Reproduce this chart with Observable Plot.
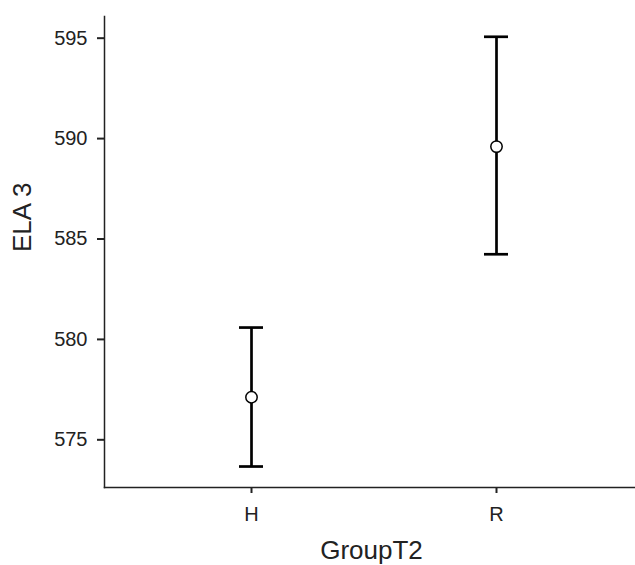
<!DOCTYPE html>
<html>
<head>
<meta charset="utf-8">
<script src="https://cdn.jsdelivr.net/npm/d3@7"></script>
<script src="https://cdn.jsdelivr.net/npm/@observablehq/plot@0.6"></script>
<style>
  html, body { margin: 0; padding: 0; background: #fff; }
</style>
</head>
<body>
<div id="chart"></div>
<script>
const groups = ["H", "R"];
const means = [577.12, 589.60];
const lower = [573.67, 584.24];
const upper = [580.59, 595.07];
const yTicks = [575, 580, 585, 590, 595];
const yDomain = [572.625, 596.08];
const xTitle = "GroupT2";
const yTitle = "ELA 3";

const data = groups.map((g, i) => ({group: g, mean: means[i], lo: lower[i], hi: upper[i]}));

const chart = Plot.plot({
  width: 635,
  height: 565,
  marginLeft: 104,
  marginTop: 16,
  marginBottom: 78,
  marginRight: 1,
  style: {fontFamily: "'Liberation Sans', Arial, sans-serif", color: "#222", background: "#fff"},
  x: {type: "band", domain: groups, paddingInner: 0.902, paddingOuter: 0.531, align: 0.517, axis: null},
  y: {domain: yDomain, axis: null},
  marks: [
    Plot.axisY({ticks: yTicks, tickSize: 7, tickPadding: 10, fontSize: 20, strokeWidth: 2, label: null, color: "#222"}),
    Plot.axisX({tickSize: 6, tickPadding: 13, fontSize: 20, strokeWidth: 2, label: null, color: "#222"}),
    Plot.frame({anchor: "left", stroke: "#222", strokeWidth: 1.5}),
    Plot.frame({anchor: "bottom", stroke: "#222", strokeWidth: 1.5}),
    Plot.ruleX(data, {x: "group", y1: "lo", y2: "hi", stroke: "#000", strokeWidth: 2.7}),
    Plot.tickY(data, {x: "group", y: "hi", stroke: "#000", strokeWidth: 2.7}),
    Plot.tickY(data, {x: "group", y: "lo", stroke: "#000", strokeWidth: 2.7}),
    Plot.dot(data, {x: "group", y: "mean", r: 5.7, fill: "#fff", stroke: "#000", strokeWidth: 1.5}),
    Plot.text([xTitle], {frameAnchor: "bottom", dx: 2, dy: 71, fontSize: 26, fill: "#222", text: d => d}),
    Plot.text([yTitle], {frameAnchor: "left", dx: -82, rotate: -90, fontSize: 26, fill: "#222", text: d => d})
  ]
});
document.getElementById("chart").appendChild(chart);
</script>
</body>
</html>
